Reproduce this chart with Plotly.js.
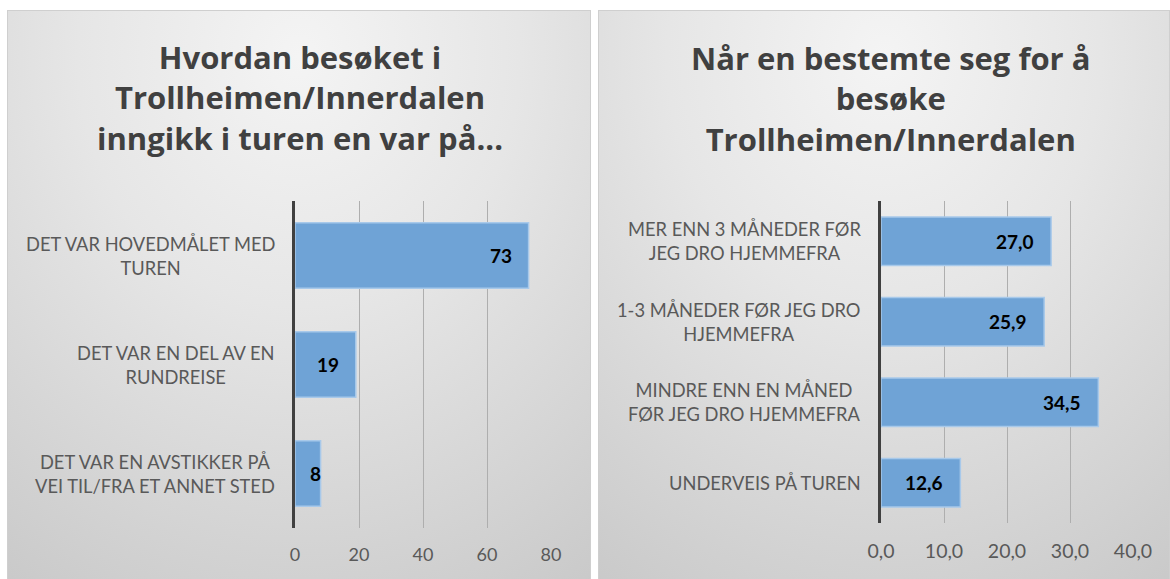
<!DOCTYPE html>
<html>
<head>
<meta charset="utf-8">
<script src="https://cdn.plot.ly/plotly-3.0.1.min.js"></script>
<style>
  html, body { margin:0; padding:0; background:#ffffff; width:1170px; height:579px; overflow:hidden; }
  .panel { position:absolute; top:10px; height:569px; box-sizing:border-box;
           border:1px solid #cfcfcf; border-bottom:none;
           background: radial-gradient(ellipse 95% 110% at 50% 8%, #f4f4f4 0%, #e6e6e6 40%, #c9c9c9 100%); }
  #left { left:7px; width:584px; }
  #right { left:598px; width:572px; }
</style>
</head>
<body>
<div id="left" class="panel"></div>
<div id="right" class="panel"></div>
<script>
// ---- Data ----
const leftTitle = "Hvordan besøket i<br>Trollheimen/Innerdalen<br>inngikk i turen en var på...";
const leftCategories = [
  "DET VAR HOVEDMÅLET MED<br>TUREN",
  "DET VAR EN DEL AV EN<br>RUNDREISE",
  "DET VAR EN AVSTIKKER PÅ<br>VEI TIL/FRA ET ANNET STED"
];
const leftValues = [73, 19, 8];
const leftTicks = [0, 20, 40, 60, 80];

const rightTitle = "Når en bestemte seg for å<br>besøke<br>Trollheimen/Innerdalen";
const rightCategories = [
  "MER ENN 3 MÅNEDER FØR<br>JEG DRO HJEMMEFRA",
  "1-3 MÅNEDER FØR JEG DRO<br>HJEMMEFRA",
  "MINDRE ENN EN MÅNED<br>FØR JEG DRO HJEMMEFRA",
  "UNDERVEIS PÅ TUREN"
];
const rightValues = [27.0, 25.9, 34.5, 12.6];
const rightTicks = [0, 10, 20, 30, 40];

// ---- Styling ----
const FONT = "Lato, 'Open Sans', sans-serif";
const TITLE_FONT = "'Open Sans', Lato, sans-serif";
const BAR = "#6fa3d6";
const BAR_LINE = "#a8c9ea";

function build(divId, title, cats, vals, ticks, fmt, opts) {
  const range = [ticks[0], ticks[ticks.length - 1]];
  const plotW = opts.width - opts.l - opts.r;
  const pxPerUnit = plotW / (range[1] - range[0]);
  const trace = {
    type: "bar", orientation: "h",
    x: vals, y: cats,
    marker: { color: BAR, line: { color: BAR_LINE, width: 1.5 } },
    hoverinfo: "none"
  };
  const annotations = [];
  cats.forEach((c, i) => {
    annotations.push({
      x: 0, xref: "paper", y: c, yref: "y",
      xanchor: "right", yanchor: "middle", xshift: -18,
      text: c, showarrow: false, align: "center",
      font: { family: FONT, size: opts.catSize, color: "#595959" }
    });
    const barPx = vals[i] * pxPerUnit;
    annotations.push({
      x: vals[i], xref: "x", y: c, yref: "y",
      xanchor: "right", yanchor: "middle",
      xshift: barPx > 45 ? -15 : 2,
      text: "<b>" + fmt(vals[i]) + "</b>", showarrow: false,
      font: { family: FONT, size: 19, color: "#000000" }
    });
  });
  const layout = {
    width: opts.width, height: 569,
    margin: { l: opts.l, r: opts.r, t: opts.t, b: opts.b, pad: 0 },
    paper_bgcolor: "rgba(0,0,0,0)", plot_bgcolor: "rgba(0,0,0,0)",
    showlegend: false, bargap: 0.4,
    separators: ",.",
    title: {
      text: "<b>" + title + "</b>",
      x: opts.titleX, xanchor: "center", y: 1 - opts.titleMid / 569, yanchor: "middle", yref: "container",
      font: { family: TITLE_FONT, size: 31, color: "#404040" }
    },
    xaxis: {
      range: range, tickvals: ticks, ticktext: ticks.map(fmt),
      showgrid: true, gridcolor: "#aeaeae", gridwidth: 1,
      zeroline: false, showline: false, ticks: "",
      tickfont: { family: FONT, size: opts.tickSize, color: "#595959" },
      ticklabelstandoff: 14, fixedrange: true
    },
    yaxis: {
      type: "category", autorange: "reversed",
      showticklabels: false, showgrid: false, zeroline: false,
      showline: true, linecolor: "#404040", linewidth: 3, ticks: "",
      fixedrange: true
    },
    annotations: annotations
  };
  Plotly.newPlot(divId, [trace], layout, { staticPlot: true, displayModeBar: false });
}

build("left", leftTitle, leftCategories, leftValues, leftTicks,
  v => String(Math.round(v)),
  { width: 584, l: 287, r: 41, t: 190, b: 52, titleMid: 58, titleX: 0.5, catSize: 18.3, tickSize: 18 });
build("right", rightTitle, rightCategories, rightValues, rightTicks,
  v => v.toFixed(1).replace(".", ","),
  { width: 572, l: 282, r: 38, t: 190, b: 57, titleMid: 59, titleX: 0.51, catSize: 18.3, tickSize: 19.5 });
</script>
</body>
</html>
